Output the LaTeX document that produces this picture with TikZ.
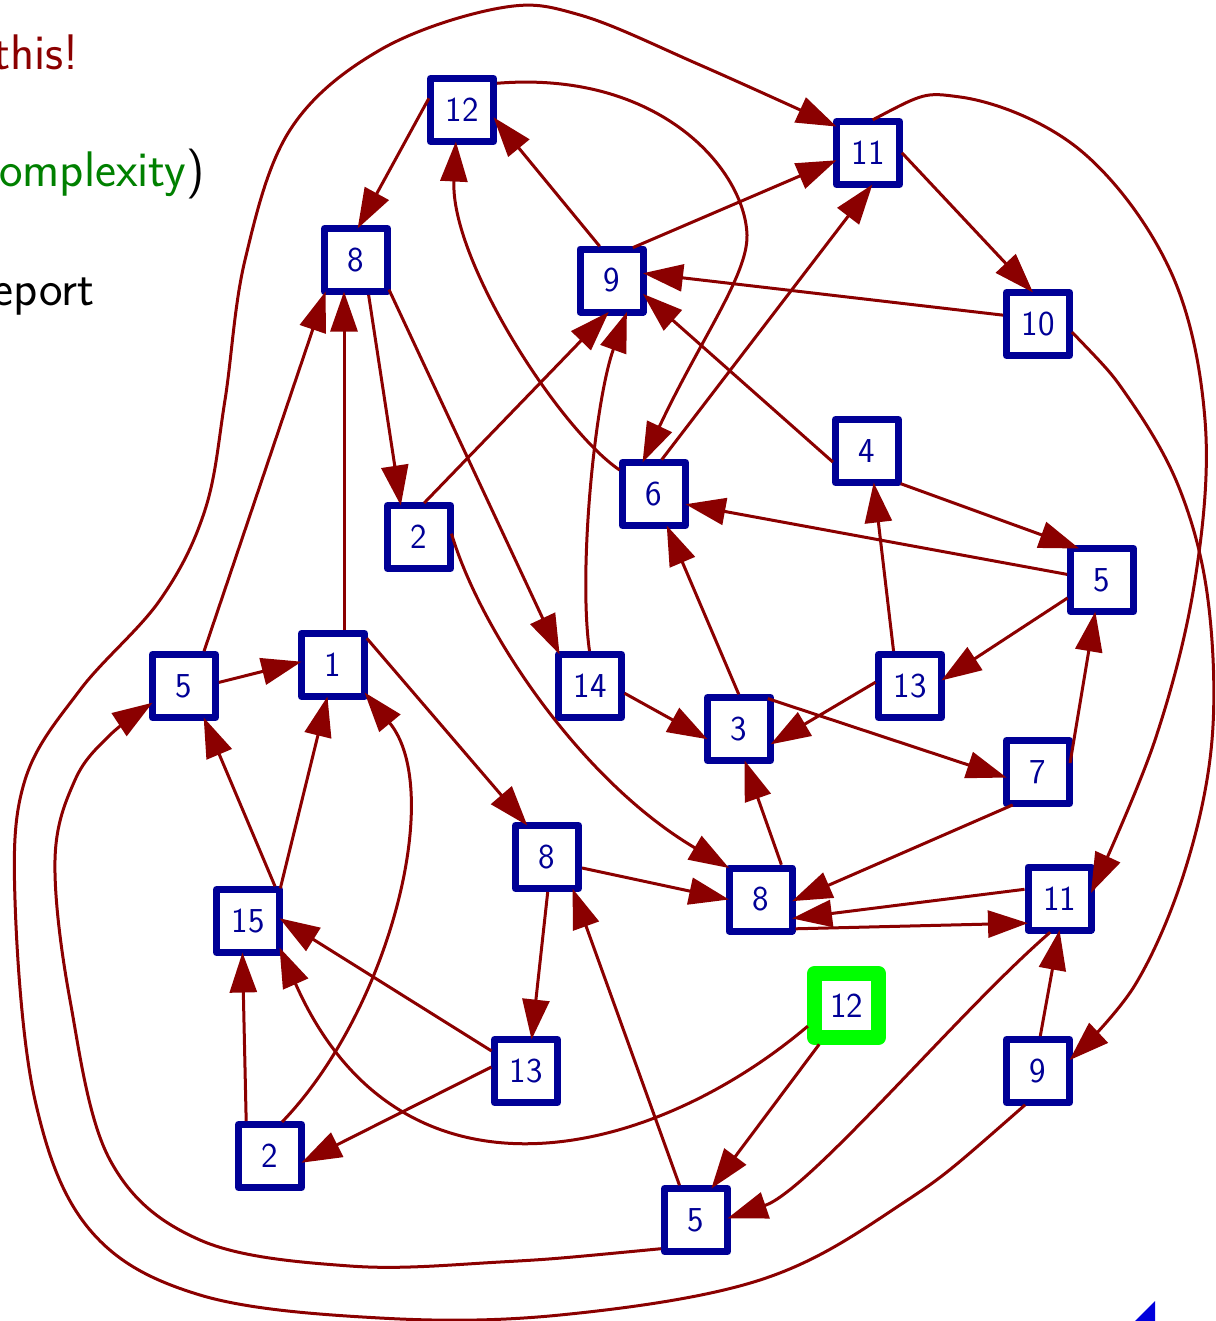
\documentclass[tikz,border=0pt]{standalone}
\usetikzlibrary{arrows.meta}
\definecolor{edgered}{RGB}{139,0,0}
\definecolor{vblue}{RGB}{0,0,150}
\definecolor{hlgreen}{RGB}{0,255,0}
\definecolor{txtgreen}{RGB}{0,128,0}
\definecolor{navblue}{RGB}{0,0,220}

\begin{document}
\begin{tikzpicture}[x=0.5pt,y=-0.5pt,
  vert/.style={draw=vblue, line width=3.5pt, line join=round, fill=white,
    minimum size=31.5pt, inner sep=0pt, outer sep=0pt, text=vblue,
    font=\fontsize{17.5}{20}\selectfont\sffamily},
  goal/.style={vert, draw=hlgreen, line width=7.5pt, minimum size=32pt, outer sep=2pt},
  link/.style={draw=edgered, line width=1.5pt, shorten <=1.75pt,
    -{Triangle[length=20pt,width=13.5pt]}},
  slide/.style={anchor=base east, inner sep=0pt, font=\fontsize{25}{30}\selectfont\sffamily}]

\useasboundingbox (0,0) rectangle (1215,1321);
\clip (0,0) rectangle (1215,1321);

% slide text running in from the left
\node[slide, text=edgered] (t1) at (79,70) {this!};
\node[slide] (t2) at (205,187) {\textcolor{txtgreen}{omplexity})};
\node[slide] (t3) at (95,305) {eport};

% vertices
\node[vert] (A) at (462,110) {12};
\node[vert] (B) at (868,153) {11};
\node[vert] (C) at (356,260) {8};
\node[vert] (D) at (611.5,280.5) {9};
\node[vert] (E) at (1038,324) {10};
\node[vert] (F) at (867,451) {4};
\node[vert] (G) at (654,494) {6};
\node[vert] (H) at (419,537) {2};
\node[vert] (I) at (1102,580) {5};
\node[vert] (J) at (184,686) {5};
\node[vert] (K) at (333,665) {1};
\node[vert] (L) at (590,686) {14};
\node[vert] (M) at (910,686) {13};
\node[vert] (N) at (739,729) {3};
\node[vert] (O) at (1038,772) {7};
\node[vert] (P) at (547,857) {8};
\node[vert] (Q) at (760.5,899.5) {8};
\node[vert] (R) at (1059.5,898.5) {11};
\node[vert] (S) at (248,921) {15};
\node[goal] (T) at (846.5,1005.5) {12};
\node[vert] (U) at (526,1071) {13};
\node[vert] (V) at (1038,1071) {9};
\node[vert] (W) at (270,1156) {2};
\node[vert] (X) at (696,1220) {5};

% straight connectors
\draw[link] (A.155) -- (C.87);
\draw[link] (D.107) -- (A.-13);
\draw[link] (D.60) -- (B.-167);
\draw[link] (B.5) -- (E.99);
\draw[link] (E.165) -- (D.13);
\draw[link] (G.80) -- (B.-82);
\draw[link] (F.-157) -- (D.-23);
\draw[link] (F.-46) -- (I.126);
\draw[link] (I.171) -- (G.-18);
\draw[link] (I.-153) -- (M.10);
\draw[link] (M.117) -- (F.-78);
\draw[link] (M.170) -- (N.-26);
\draw[link] (C.-69) -- (H.120);
\draw[link] (C.-40) -- (L.134);
\draw[link] (H.85) -- (D.-95);
\draw[link] (L.-10) -- (N.-162);
\draw[link] (N.88) -- (G.-68);
\draw[link] (N.51) -- (O.-170);
\draw[link] (O.10) -- (I.-102);
\draw[link] (O.-125) -- (Q.-3);
\draw[link] (Q.55) -- (N.-80);
\draw[link] (R.163) -- (Q.-31);
\draw[link] (Q.-43) -- (R.-142);
\draw[link] (J.5) -- (K.174);
\draw[link] (J.59) -- (C.-134);
\draw[link] ([xshift=5.5pt]K.north) -- ([xshift=-6pt]C.south);
\draw[link] (K.43) -- (P.122);
\draw[link] (S.48) -- (J.-58);
\draw[link] (S.43) -- (K.-100);
\draw[link] (W.127) -- (S.-100);
\draw[link] (U.150) -- (S.5);
\draw[link] (U.170) -- (W.-12);
\draw[link] (P.-18) -- (Q.180);
\draw[link] (P.-88) -- (U.80);
\draw[link] (X.116) -- (P.-51);
\draw[link] (T.-125) -- (X.64);
\draw[link] (V.87) -- (R.-90);

% curved connectors
\draw[link] (A.40) .. controls (660,70) and (745,170) .. (747,235)
  .. controls (748,275) and (700,340) .. (G.110);
\draw[link] (G.145) .. controls (560,430) and (450,260) .. (A.-101);
\draw[link] (H.12) .. controls (480,630) and (580,780) .. (Q.135);
\draw[link] (L.90) .. controls (578,570) and (595,400) .. (D.-64);
\draw[link] (W.73) .. controls (390,1010) and (445,790) .. (K.-41);
\draw[link] (T.-153) .. controls (650,1160) and (400,1220) .. (S.-40);
\draw[link] (R.-102) .. controls (960,1010) and (810,1190) .. (X.3);
\draw[link] plot[smooth, tension=0.6] coordinates {(B.87) (960,97) (1080,150)
  (1170,270) (1205,420) (1195,580) (1155,740) (R.10)};
\draw[link] plot[smooth, tension=0.6] coordinates {(E.-10) (1130,400) (1180,490)
  (1208,600) (1212,740) (1185,870) (1135,985) (V.19)};
\draw[link] plot[smooth, tension=0.6] coordinates {(X.-138) (500,1262) (350,1266)
  (200,1240) (110,1160) (70,1000) (55,860) (75,780) (110,735) (J.-152)};
\draw[link] plot[smooth, tension=0.6] coordinates {(V.-108) (900,1205) (760,1280)
  (560,1315) (380,1318) (200,1295) (90,1230) (35,1100) (15,900) (25,780)
  (80,690) (160,600) (205,510) (225,400) (245,260) (290,130) (380,50)
  (500,8) (580,15) (700,65) (B.140)};

% navigation mark in the corner
\fill[navblue] (1135,1321) -- (1155,1301) -- (1155,1321) -- cycle;
\end{tikzpicture}
\end{document}
